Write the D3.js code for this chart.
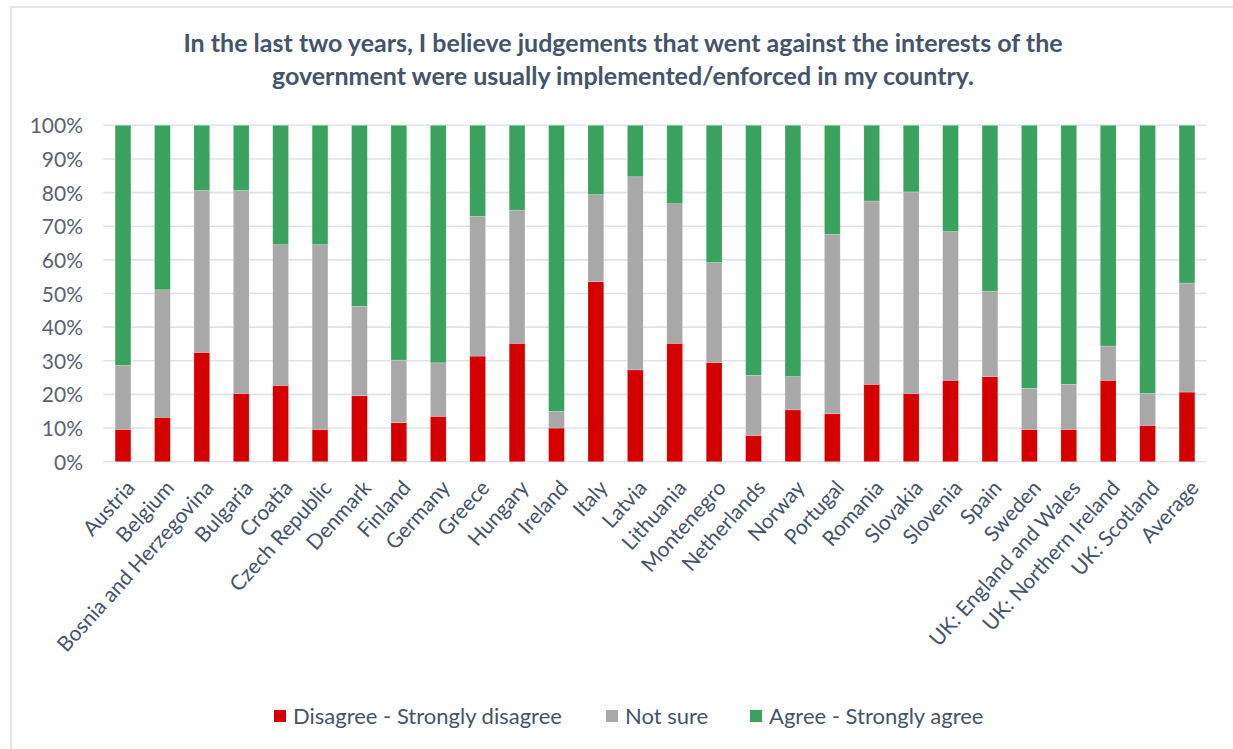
<!DOCTYPE html>
<html>
<head>
<meta charset="utf-8">
<script src="https://cdn.jsdelivr.net/npm/d3@7"></script>
<style>
  html, body { margin: 0; padding: 0; background: #fff; }
  svg { display: block; }
</style>
</head>
<body>
<svg id="chart" width="1233" height="749"></svg>
<script>
const categories = ["Austria","Belgium","Bosnia and Herzegovina","Bulgaria","Croatia","Czech Republic","Denmark","Finland","Germany","Greece","Hungary","Ireland","Italy","Latvia","Lithuania","Montenegro","Netherlands","Norway","Portugal","Romania","Slovakia","Slovenia","Spain","Sweden","UK: England and Wales","UK: Northern Ireland","UK: Scotland","Average"];
const disagree = [9.6,13.2,32.5,20.3,22.7,9.6,19.6,11.6,13.5,31.4,35.2,10.0,53.5,27.3,35.2,29.5,7.8,15.4,14.3,23.0,20.3,24.2,25.3,9.6,9.6,24.2,10.8,20.7];
const notSure  = [19.0,37.9,48.1,60.3,41.8,54.9,26.6,18.6,15.9,41.5,39.6,5.0,25.9,57.4,41.5,29.7,17.9,9.9,53.3,54.5,59.9,44.2,25.4,12.2,13.4,10.2,9.5,32.4];
const agree    = [71.4,48.9,19.4,19.4,35.5,35.5,53.8,69.8,70.6,27.1,25.2,85.0,20.6,15.3,23.3,40.8,74.3,74.7,32.4,22.5,19.8,31.6,49.3,78.2,77.0,65.6,79.7,46.9];
const seriesNames = ["Disagree - Strongly disagree","Not sure","Agree - Strongly agree"];
const yTicks = [0,10,20,30,40,50,60,70,80,90,100];
const titleLines = ["In the last two years, I believe judgements that went against the interests of the","government were usually implemented/enforced in my country."];

const colors = ["#d40000","#a8a8a8","#3aa15e"];
const textColor = "#44546a";
const font = "Lato, 'Open Sans', sans-serif";

const svg = d3.select("#chart");

// outer border
svg.append("path").attr("d","M11,749 L11,7 L1233,7").attr("fill","none").attr("stroke","#e2e6ed").attr("stroke-width",2);

const plotLeft = 103.3, plotRight = 1206.7, plotTop = 125.3, plotBottom = 461.7;

const x = d3.scaleBand().domain(categories).range([plotLeft,plotRight]).paddingInner(0.6).paddingOuter(0.3);
const y = d3.scaleLinear().domain([0,100]).range([plotBottom, plotTop]);

// gridlines
svg.append("g").selectAll("line").data(yTicks).join("line")
  .attr("x1", plotLeft).attr("x2", plotRight)
  .attr("y1", d => y(d)).attr("y2", d => y(d))
  .attr("stroke", "#dfe3e9").attr("stroke-width", 1.6);

// y axis labels
const yAxis = d3.axisLeft(y).tickValues(yTicks).tickFormat(d => d + "%").tickSize(0).tickPadding(0);
const yg = svg.append("g").attr("transform", `translate(${83},0)`).call(yAxis);
yg.select(".domain").remove();
yg.selectAll("text").attr("font-family", font).attr("font-size", 21).attr("fill", "#596272").attr("dy","0.36em");

// stacked data
const rows = categories.map((c,i) => ({cat:c, s0:disagree[i], s1:notSure[i], s2:agree[i]}));
const stack = d3.stack().keys(["s0","s1","s2"]);
const stacked = stack(rows);

svg.append("g").selectAll("g").data(stacked).join("g")
  .attr("fill", (d,i) => colors[i])
  .selectAll("rect").data(d => d).join("rect")
  .attr("x", d => x(d.data.cat))
  .attr("width", x.bandwidth())
  .attr("y", d => y(d[1]))
  .attr("height", d => y(d[0]) - y(d[1]))
  .attr("stroke", "#ffffff").attr("stroke-opacity", 0.35).attr("stroke-width", 0.6);

// x axis labels
const xAxis = d3.axisBottom(x).tickSize(0).tickPadding(0);
const xg = svg.append("g").attr("transform", `translate(0,${plotBottom})`).call(xAxis);
xg.select(".domain").remove();
xg.selectAll("text")
  .attr("font-family", font).attr("font-size", 21).attr("fill", textColor)
  .attr("text-anchor", "end")
  .attr("dy", null)
  .attr("transform", "translate(13,27) rotate(-48)");

// title
svg.append("g").selectAll("text").data(titleLines).join("text")
  .attr("x", 623).attr("y", (d,i) => 52 + i*33)
  .attr("text-anchor","middle")
  .attr("font-family", font).attr("font-weight","bold").attr("font-size", 25)
  .attr("fill", textColor)
  .text(d => d);

// legend
const legendX = [274, 606, 750];
const lg = svg.append("g").selectAll("g").data(seriesNames).join("g")
  .attr("transform", (d,i) => `translate(${legendX[i]},${716})`);
lg.append("rect").attr("x",0).attr("y",-6).attr("width",12).attr("height",12).attr("fill",(d,i)=>colors[i]);
lg.append("text").attr("x",19).attr("y",0).attr("dy","0.35em")
  .attr("font-family", font).attr("font-size", 22).attr("fill", textColor).text(d => d);
</script>
</body>
</html>
